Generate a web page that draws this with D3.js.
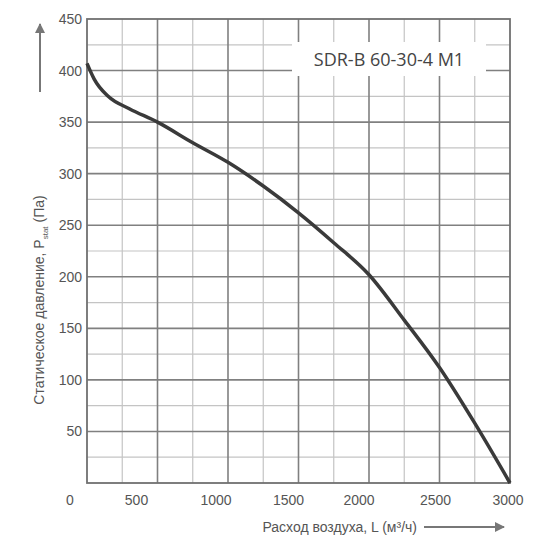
<!DOCTYPE html>
<html><head><meta charset="utf-8">
<script src="https://cdn.jsdelivr.net/npm/d3@7"></script>
<style>body{margin:0;background:#fff}</style></head>
<body><svg id="c" width="550" height="550"></svg>
<script>
const flow = [0,50,150,300,500,750,1000,1250,1500,1750,2000,2250,2500,2750,3000];
const pressure = [407,392,375,363,350,330,311,288,262,233,202,158,112,58,0];
const xTicks = [0,500,1000,1500,2000,2500,3000];
const yTicks = [50,100,150,200,250,300,350,400,450];
const title = "SDR-B 60-30-4 M1";

const svg = d3.select("#c");
const x = d3.scaleLinear().domain([0,3000]).range([87,510]);
const y = d3.scaleLinear().domain([0,450]).range([483,19]);
const g = svg.append("g");
// minor grid
d3.range(250,3000,500).forEach(v=>g.append("line").attr("x1",x(v)).attr("x2",x(v)).attr("y1",y(0)).attr("y2",y(450)).attr("stroke","#c4c4c4").attr("stroke-width",1.2));
d3.range(25,450,50).forEach(v=>g.append("line").attr("y1",y(v)).attr("y2",y(v)).attr("x1",x(0)).attr("x2",x(3000)).attr("stroke","#c4c4c4").attr("stroke-width",1.2));
// major grid
d3.range(500,3000,500).forEach(v=>g.append("line").attr("x1",x(v)).attr("x2",x(v)).attr("y1",y(0)).attr("y2",y(450)).attr("stroke","#808080").attr("stroke-width",1.6));
d3.range(50,450,50).forEach(v=>g.append("line").attr("y1",y(v)).attr("y2",y(v)).attr("x1",x(0)).attr("x2",x(3000)).attr("stroke","#808080").attr("stroke-width",1.6));
g.append("rect").attr("x",x(0)).attr("y",y(450)).attr("width",x(3000)-x(0)).attr("height",y(0)-y(450)).attr("fill","none").attr("stroke","#707070").attr("stroke-width",1.8);
// title box
g.append("rect").attr("x",292).attr("y",42).attr("width",194).attr("height",34).attr("fill","#fff");
g.append("text").attr("x",389).attr("y",66).attr("text-anchor","middle").attr("font-family","Open Sans").attr("font-size",18).attr("fill","#444").text(title);
// curve
g.append("path").datum(flow.map((f,i)=>[f,pressure[i]]))
 .attr("d",d3.line().x(d=>x(d[0])).y(d=>y(d[1])).curve(d3.curveMonotoneX))
 .attr("fill","none").attr("stroke","#3a3a3a").attr("stroke-width",3.5);
// tick labels
const xOff = [-17,-21,-12,-10,-10,-4,-2];
xTicks.forEach((v,i)=>svg.append("text").attr("x",x(v)+xOff[i]).attr("y",505).attr("text-anchor","middle").attr("font-family","Liberation Sans").attr("font-size",14).attr("fill","#555").text(v));
yTicks.forEach(v=>svg.append("text").attr("x",82).attr("y",y(v)+5).attr("text-anchor","end").attr("font-family","Liberation Sans").attr("font-size",14).attr("fill","#555").text(v));
// axis titles
svg.append("text").attr("x",417).attr("y",532).attr("text-anchor","end").attr("font-family","Liberation Sans").attr("font-size",14).attr("fill","#555").text("Расход воздуха, L (м³/ч)");
const defs = svg.append("defs");
defs.append("marker").attr("id","ar").attr("viewBox","0 0 10 10").attr("refX",9).attr("refY",5).attr("markerWidth",5).attr("markerHeight",5).attr("orient","auto")
 .append("path").attr("d","M0,0L10,5L0,10z").attr("fill","#777");
svg.append("line").attr("x1",424).attr("x2",504).attr("y1",527).attr("y2",527).attr("stroke","#777").attr("stroke-width",2).attr("marker-end","url(#ar)");
const yt = svg.append("text").attr("transform","translate(44,300) rotate(-90)").attr("text-anchor","middle").attr("font-family","Liberation Sans").attr("font-size",14).attr("fill","#555");
yt.append("tspan").text("Статическое давление, P");
yt.append("tspan").attr("font-size",8).attr("dy",4).text("stat");
yt.append("tspan").attr("dy",-4).text(" (Па)");
svg.append("line").attr("x1",40).attr("x2",40).attr("y1",92).attr("y2",24).attr("stroke","#777").attr("stroke-width",2).attr("marker-end","url(#ar)");
</script></body></html>
